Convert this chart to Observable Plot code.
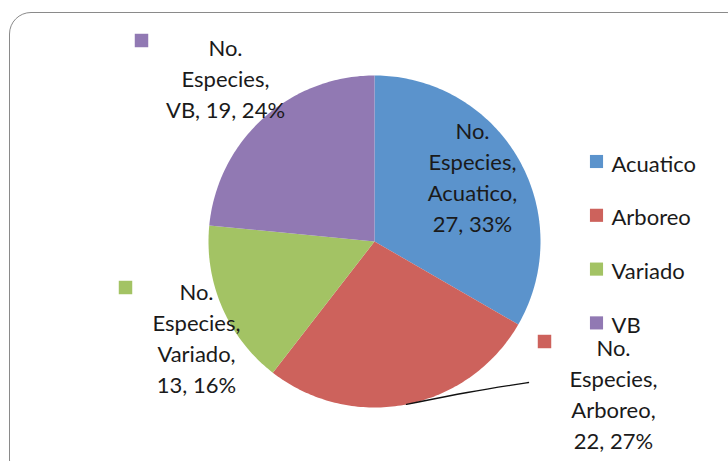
<!DOCTYPE html>
<html>
<head>
<meta charset="utf-8">
<script src="https://cdn.jsdelivr.net/npm/d3@7"></script>
<script src="https://cdn.jsdelivr.net/npm/@observablehq/plot@0.6"></script>
<style>
  html, body { margin: 0; padding: 0; background: #fff; overflow: hidden; }
  #wrap { position: relative; width: 728px; height: 461px; overflow: hidden; }
  #frame { position: absolute; left: 9px; top: 12px; width: 740px; height: 470px;
           border: 1.6px solid #8a8a8a; border-radius: 22px; box-sizing: border-box; }
  #chart { position: absolute; left: 0; top: 0; }
</style>
</head>
<body>
<div id="wrap"><div id="frame"></div><div id="chart"></div></div>
<script>
// ---- data ----
const seriesName = "No. Especies";
const categories = ["Acuatico", "Arboreo", "Variado", "VB"];
const counts = [27, 22, 13, 19];
const percents = [33, 27, 16, 24];
const colors = ["#5B93CC", "#CD625C", "#A3C364", "#9179B3"];

// ---- layout ----
const W = 728, H = 461;
const cx = 374, cy = 241, R = 166;
const fontSize = 22, lineGap = 31;

const rows = categories.map((c, i) => ({name: c, count: counts[i], pct: percents[i]}));
const arcs = d3.pie().sort(null).value(d => d.count)(rows);

// slice polygons from pie angles (0 = 12 o'clock, clockwise)
const slicePts = [];
for (const a of arcs) {
  slicePts.push({name: a.data.name, x: cx, y: cy});
  const steps = Math.max(2, Math.ceil((a.endAngle - a.startAngle) / (Math.PI / 180)));
  for (let k = 0; k <= steps; k++) {
    const t = a.startAngle + (a.endAngle - a.startAngle) * k / steps;
    slicePts.push({name: a.data.name, x: cx + R * Math.sin(t), y: cy - R * Math.cos(t)});
  }
}

// data label placement (Excel "best fit"), last-line baseline
const labelPos = {
  Acuatico: {x: 472, y: 231, key: null},
  Arboreo:  {x: 613, y: 448, key: [544, 341]},
  Variado:  {x: 196, y: 392, key: [125, 287]},
  VB:       {x: 225, y: 117, key: [141, 40]}
};
const labels = rows.map(d => {
  const p = labelPos[d.name];
  const [a, b] = seriesName.split(" ");
  const text = d.name.length <= 2
    ? `${a}\n${b},\n${d.name}, ${d.count}, ${d.pct}%`
    : `${a}\n${b},\n${d.name},\n${d.count}, ${d.pct}%`;
  return {name: d.name, x: p.x, y: p.y, text};
});
const keys = rows.filter(d => labelPos[d.name].key)
  .map(d => ({name: d.name, x: labelPos[d.name].key[0], y: labelPos[d.name].key[1]}));

// leader line for Arboreo label
const arb = arcs[1];
const mid = (arb.startAngle + arb.endAngle) / 2;
const leader = [
  {x: cx + R * Math.sin(mid), y: cy - R * Math.cos(mid)},
  {x: 470, y: 391},
  {x: 515, y: 384},
  {x: 528, y: 382}
];

// legend
const legend = rows.map((d, i) => ({name: d.name, i}));
const legY0 = 161, legStep = 53.8;

const chart = Plot.plot({
  width: W, height: H, margin: 0,
  style: {fontFamily: "Lato, 'Open Sans', sans-serif", fontSize: fontSize + "px", color: "#1a1a1a", background: "transparent"},
  x: {domain: [0, W], range: [0, W], axis: null},
  y: {domain: [0, H], range: [0, H], axis: null},
  color: {domain: categories, range: colors},
  marks: [
    Plot.line(slicePts, {x: "x", y: "y", z: "name", fill: "name", stroke: "none", curve: "linear-closed"}),
    Plot.line(leader, {x: "x", y: "y", stroke: "#111", strokeWidth: 1.4, curve: "basis"}),
    Plot.dot(keys, {x: "x", y: "y", fill: "name", symbol: "square", r: 7.6, stroke: "none"}),
    Plot.text(labels, {x: "x", y: "y", text: "text", textAnchor: "middle", lineAnchor: "bottom",
      lineHeight: lineGap / fontSize, fill: "#1a1a1a"}),
    Plot.dot(legend, {x: () => 596, y: d => legY0 + d.i * legStep, fill: "name", symbol: "square", r: 7.4, stroke: "none"}),
    Plot.text(legend, {x: () => 611, y: d => legY0 + 10 + d.i * legStep, text: "name", textAnchor: "start",
      lineAnchor: "bottom", fill: "#1a1a1a"})
  ]
});
document.getElementById("chart").appendChild(chart);
</script>
</body>
</html>
